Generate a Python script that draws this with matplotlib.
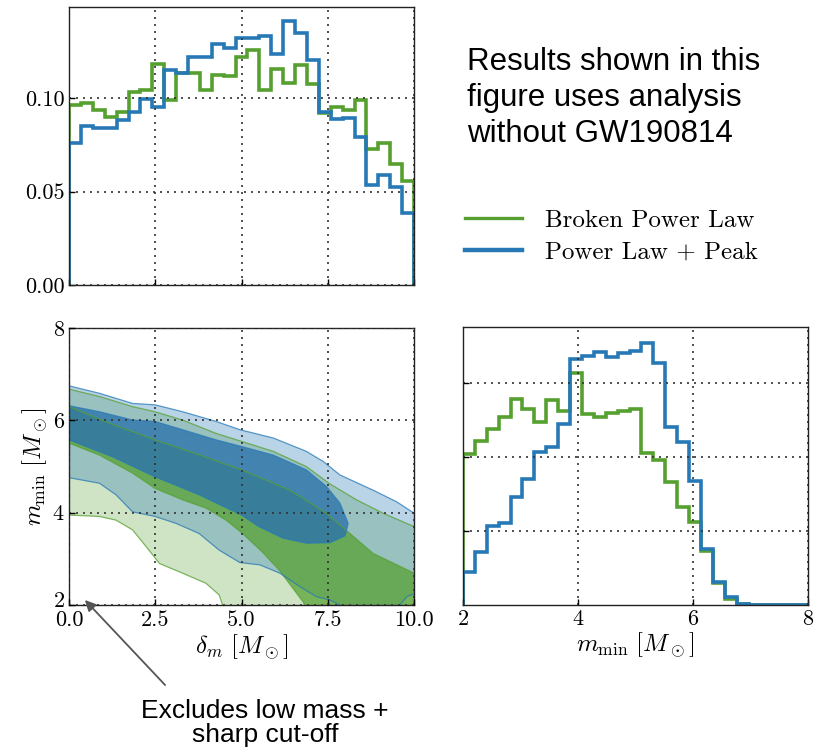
import numpy as np
import matplotlib
matplotlib.use('Agg')
from matplotlib import pyplot as plt
from matplotlib.lines import Line2D
from matplotlib import transforms

# histogram heights (29 bins)
dm_bpl = [0.0964, 0.0977, 0.0937, 0.0902, 0.0928, 0.1032, 0.1044, 0.1182, 0.0991, 0.1134,
          0.1134, 0.1044, 0.1125, 0.1120, 0.1223, 0.1259, 0.1044, 0.1160, 0.1080, 0.1178,
          0.1075, 0.0920, 0.0955, 0.0937, 0.0990, 0.0727, 0.0759, 0.0648, 0.0559]
dm_plp = [0.0763, 0.0850, 0.0843, 0.0843, 0.0884, 0.0928, 0.0996, 0.0955, 0.1155, 0.1134,
          0.1223, 0.1223, 0.1289, 0.1271, 0.1325, 0.1325, 0.1336, 0.1236, 0.1414, 0.1348,
          0.1205, 0.0925, 0.0890, 0.0893, 0.0794, 0.0536, 0.0589, 0.0523, 0.0384]
mmin_bpl = [0.204, 0.221, 0.238, 0.254, 0.278, 0.265, 0.247, 0.276, 0.262, 0.313,
            0.257, 0.254, 0.259, 0.262, 0.265, 0.205, 0.195, 0.166, 0.132, 0.112,
            0.073, 0.029, 0.008, 0.002, 0.0, 0.0, 0.0, 0.0, 0.0]
mmin_plp = [0.045, 0.072, 0.106, 0.110, 0.146, 0.170, 0.206, 0.213, 0.244, 0.332,
            0.336, 0.341, 0.334, 0.340, 0.343, 0.354, 0.327, 0.240, 0.220, 0.167,
            0.076, 0.031, 0.011, 0.002, 0.0, 0.0, 0.0, 0.0, 0.0]

# credible region outlines (delta_m, m_min)
bpl90_up_x = [0, 0.88, 1.84, 2.49, 3.29, 4.26, 5.03, 5.92, 6.88, 7.53, 8.33, 9.10, 10.0]
bpl90_up_y = [6.68, 6.52, 6.30, 6.19, 6.01, 5.72, 5.54, 5.33, 5.00, 4.64, 4.28, 3.99, 3.70]
bpl90_lo_x = [0, 0.88, 1.36, 1.84, 2.23, 2.62, 3.29, 3.97, 4.35, 4.45, 4.55]
bpl90_lo_y = [3.95, 3.92, 3.84, 3.63, 3.27, 2.90, 2.69, 2.47, 2.22, 2.0, 1.8]

bpl50_up_x = [0, 1.17, 2.49, 3.8, 5.0, 6.40, 7.46, 8.14, 8.81, 10.0]
bpl50_up_y = [6.30, 5.94, 5.58, 5.25, 4.93, 4.49, 3.99, 3.55, 3.12, 2.69]
bpl50_lo_x = [0, 0.88, 1.84, 2.49, 3.29, 3.97, 4.55, 5.03, 5.6, 6.1, 6.5, 6.8, 6.9]
bpl50_lo_y = [5.51, 5.25, 4.86, 4.53, 4.28, 4.10, 3.84, 3.55, 3.15, 2.75, 2.35, 2.05, 1.8]

plp90_up_x = [0, 0.88, 1.84, 2.49, 3.29, 4.26, 4.95, 5.92, 6.88, 7.37, 7.85, 8.81, 9.49, 10.0]
plp90_up_y = [6.75, 6.59, 6.37, 6.34, 6.19, 5.98, 5.80, 5.62, 5.33, 5.11, 4.82, 4.49, 4.24, 3.99]
plp90_lo_x = [0, 0.88, 1.36, 1.84, 2.49, 3.10, 3.77, 4.35, 4.95, 5.53, 6.11, 6.69, 7.17, 7.56, 7.85, 7.95]
plp90_lo_y = [4.76, 4.64, 4.39, 4.02, 3.92, 3.77, 3.55, 3.19, 2.92, 2.87, 2.69, 2.40, 2.18, 2.11, 2.0, 1.8]
plp90_bump_x = [9.55, 9.59, 9.79, 10.0]
plp90_bump_y = [1.8, 2.0, 2.18, 2.24]

plp50_up_x = [0, 0.88, 1.84, 2.49, 3.29, 4.26, 5.03, 5.92, 6.88, 7.46, 7.85, 8.09]
plp50_up_y = [6.32, 6.19, 6.01, 5.98, 5.80, 5.58, 5.43, 5.25, 4.93, 4.57, 4.21, 3.77]
plp50_lo_x = [0, 1.3, 2.49, 3.77, 4.3, 5.0, 5.5, 6.2, 6.88, 7.56, 8.0]
plp50_lo_y = [5.58, 5.2, 4.78, 4.39, 4.2, 3.95, 3.7, 3.45, 3.34, 3.35, 3.50]

green = '#56a02f'
blue = '#2779b6'
grid_kw = dict(color='#333333', linestyle=(0, (1.2, 3)), linewidth=1.2)

plt.rcParams['mathtext.fontset'] = 'cm'
plt.rcParams['font.family'] = 'serif'
plt.rcParams['font.serif'] = ['cmr10', 'DejaVu Serif']
plt.rcParams['axes.formatter.use_mathtext'] = True

fig = plt.figure(figsize=(8.17, 7.52), dpi=100)
ax1 = fig.add_axes([0.0845, 0.621, 0.4223, 0.3697])
ax2 = fig.add_axes([0.0845, 0.1955, 0.4223, 0.368])
ax3 = fig.add_axes([0.5667, 0.1955, 0.4223, 0.3697])

edges_dm = np.linspace(0, 10, 30)
edges_mmin = np.linspace(2, 8, 30)

# top: delta_m marginal
ax1.stairs(dm_bpl, edges_dm, baseline=0, color=green, lw=2.6)
ax1.stairs(dm_plp, edges_dm, baseline=0, color=blue, lw=2.6)
ax1.set_xlim(0, 10)
ax1.set_ylim(0, 0.149)
ax1.set_xticks([0, 2.5, 5, 7.5, 10])
ax1.set_yticks([0, 0.05, 0.10])
ax1.set_yticklabels(['0.00', '0.05', '0.10'])
ax1.tick_params(labelbottom=False)

# bottom left: 2D credible regions
def poly(up_x, up_y, lo_x, lo_y, mid_x, mid_y):
    xs = list(up_x) + list(mid_x) + list(lo_x)[::-1]
    ys = list(up_y) + list(mid_y) + list(lo_y)[::-1]
    return xs, ys

px, py = poly(bpl90_up_x, bpl90_up_y, bpl90_lo_x, bpl90_lo_y, [10], [1.8])
ax2.fill(px, py, color=green, alpha=0.28, lw=0)
px, py = poly(plp90_up_x, plp90_up_y, plp90_lo_x, plp90_lo_y, plp90_bump_x[::-1], plp90_bump_y[::-1])
ax2.fill(px, py, color=blue, alpha=0.32, lw=0)
px, py = poly(bpl50_up_x, bpl50_up_y, bpl50_lo_x, bpl50_lo_y, [10], [1.8])
ax2.fill(px, py, color=green, alpha=0.72, lw=0)
px, py = poly(plp50_up_x, plp50_up_y, plp50_lo_x, plp50_lo_y, [], [])
ax2.fill(px, py, color='#2c74ad', alpha=0.8, lw=0)

for xs, ys in [(bpl90_up_x, bpl90_up_y), (bpl90_lo_x, bpl90_lo_y),
               (bpl50_up_x, bpl50_up_y), (bpl50_lo_x, bpl50_lo_y)]:
    ax2.plot(xs, ys, color=green, lw=0.9, alpha=0.75)
for xs, ys in [(plp90_up_x, plp90_up_y), (plp90_lo_x, plp90_lo_y),
               (plp90_bump_x, plp90_bump_y)]:
    ax2.plot(xs, ys, color=blue, lw=0.9, alpha=0.75)
ax2.plot(px + [px[0]], py + [py[0]], color=blue, lw=0.9, alpha=0.75)

ax2.set_xlim(0, 10)
ax2.set_ylim(2, 8)
ax2.set_xticks([0, 2.5, 5, 7.5, 10])
ax2.set_xticklabels(['0.0', '2.5', '5.0', '7.5', '10.0'])
ax2.set_yticks([2, 4, 6, 8])
ax2.set_axisbelow(False)
ax2.set_xlabel(r'$\delta_m\ [M_\odot]$', fontsize=18, labelpad=2)
ax2.set_ylabel(r'$m_{\rm min}\ [M_\odot]$', fontsize=18, labelpad=2)

# bottom right: m_min marginal
ax3.stairs(mmin_bpl, edges_mmin, baseline=0, color=green, lw=2.6)
ax3.stairs(mmin_plp, edges_mmin, baseline=0, color=blue, lw=2.6)
ax3.set_xlim(2, 8)
ax3.set_ylim(0, 0.375)
ax3.set_xticks([2, 4, 6, 8])
ax3.set_yticks([0.1, 0.2, 0.3])
ax3.tick_params(labelleft=False)
ax3.set_xlabel(r'$m_{\rm min}\ [M_\odot]$', fontsize=18, labelpad=2)

for ax in (ax1, ax2, ax3):
    ax.grid(True, **grid_kw)
    ax.tick_params(direction='in', length=4, width=1, labelsize=16, pad=3,
                   top=False, right=False)
    for s in ax.spines.values():
        s.set_linewidth(1.0)
        s.set_color('#222222')
ax2.tick_params(axis='x', pad=4)

# nudge the lowest y label up a little so it does not sit on "0.0"
lab = ax2.get_yticklabels()[0]
lab.set_transform(lab.get_transform() + transforms.ScaledTranslation(0, 0.06, fig.dpi_scale_trans))

handles = [Line2D([], [], color=green, lw=2.4), Line2D([], [], color=blue, lw=3.2)]
fig.legend(handles, ['Broken Power Law', 'Power Law + Peak'], loc='upper left',
           bbox_to_anchor=(0.569, 0.7214), frameon=False, fontsize=18,
           handlelength=2.3, handletextpad=0.9, labelspacing=0.35,
           borderpad=0, borderaxespad=0)

fig.text(0.5716, 0.8697, 'Results shown in this\nfigure uses analysis\nwithout GW190814',
         family='Liberation Sans', fontsize=22.5, ha='left', va='center', linespacing=1.25)
fig.text(0.3244, 0.0379, 'Excludes low mass +\nsharp cut-off', family='Liberation Sans',
         fontsize=19, ha='center', va='center', linespacing=1.0)
ax2.annotate('', xy=(0.1016, 0.2048), xycoords='figure fraction',
             xytext=(0.2044, 0.0864), textcoords='figure fraction',
             arrowprops=dict(arrowstyle='-|>', color='#555555', lw=1.3, mutation_scale=16))

plt.savefig('out.png', dpi=100)
